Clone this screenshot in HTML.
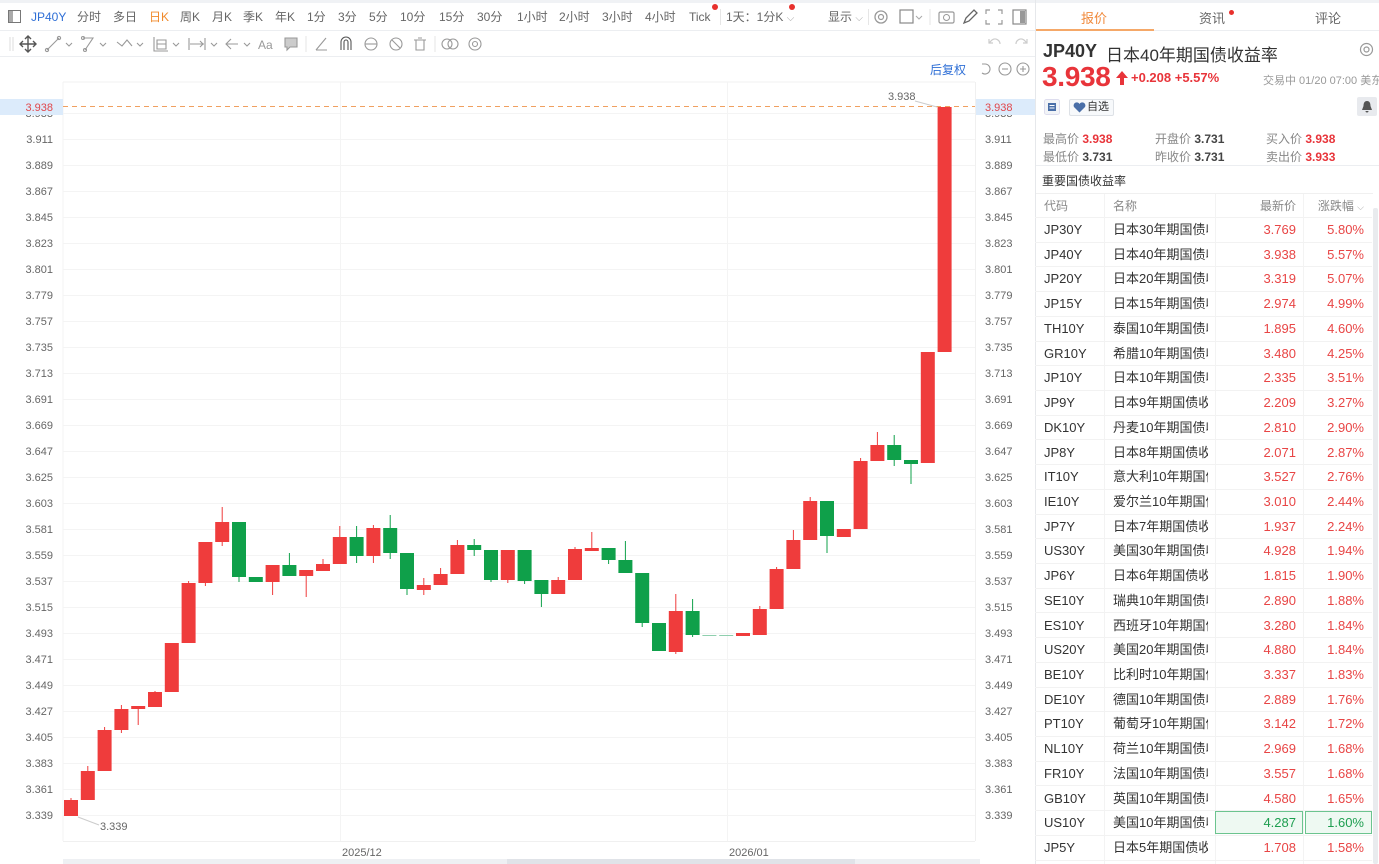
<!DOCTYPE html>
<html><head><meta charset="utf-8">
<style>
*{margin:0;padding:0;box-sizing:border-box}
body{width:1379px;height:864px;overflow:hidden;background:#fff;font-family:"Liberation Sans","Noto Sans CJK SC",sans-serif;position:relative;color:#333}
.a{position:absolute;white-space:nowrap}
.tb{font-size:12px;color:#666;top:9px;line-height:16px}
.row{position:absolute;left:1035px;width:337px;height:24.7px;border-bottom:1px solid #f2f2f2;font-size:13px;line-height:24px}
.row span{position:absolute;top:0;white-space:nowrap}
.c1{left:9px;color:#333}
.c2{left:78px;width:95px;overflow:hidden;color:#333}
.c3{right:76px;color:#e84545;text-align:right}
.c4{right:8px;color:#e84545;text-align:right}
.lb{color:#888;font-size:12px}
.vb{font-weight:bold;font-size:12px}
</style></head><body>

<div class="a" style="left:0;top:0;width:1379px;height:3px;background:#f0f2f5"></div>

<svg class="a" style="left:8px;top:10px" width="14" height="14"><rect x="0.5" y="0.5" width="12" height="12" fill="none" stroke="#777"/><rect x="1" y="1" width="4" height="11" fill="#aaa"/></svg>
<div class="a tb" style="left:31px;color:#2f6fd6">JP40Y</div>
<div class="a tb" style="left:77px">分时</div>
<div class="a tb" style="left:113px">多日</div>
<div class="a tb" style="left:149px;color:#f08a2c">日K</div>
<div class="a tb" style="left:180px">周K</div>
<div class="a tb" style="left:212px">月K</div>
<div class="a tb" style="left:243px">季K</div>
<div class="a tb" style="left:275px">年K</div>
<div class="a tb" style="left:307px">1分</div>
<div class="a tb" style="left:338px">3分</div>
<div class="a tb" style="left:369px">5分</div>
<div class="a tb" style="left:400px">10分</div>
<div class="a tb" style="left:439px">15分</div>
<div class="a tb" style="left:477px">30分</div>
<div class="a tb" style="left:517px">1小时</div>
<div class="a tb" style="left:559px">2小时</div>
<div class="a tb" style="left:602px">3小时</div>
<div class="a tb" style="left:645px">4小时</div>
<div class="a tb" style="left:689px">Tick</div>
<div class="a" style="left:712px;top:4px;width:6px;height:6px;border-radius:3px;background:#e8302c"></div>
<div class="a" style="left:720px;top:9px;width:1px;height:16px;background:#e6e6e6"></div>
<div class="a tb" style="left:726px">1天：1分K <span style="color:#aaa;font-size:10px">⌵</span></div>
<div class="a" style="left:789px;top:4px;width:6px;height:6px;border-radius:3px;background:#e8302c"></div>
<div class="a tb" style="left:828px">显示 <span style="color:#aaa;font-size:10px">⌵</span></div>
<div class="a" style="left:868px;top:9px;width:1px;height:16px;background:#e6e6e6"></div>
<svg class="a" style="left:872px;top:8px" width="160" height="18">
 <circle cx="9" cy="9" r="6" fill="none" stroke="#999" stroke-width="1.3"/><circle cx="9" cy="9" r="2.5" fill="none" stroke="#999" stroke-width="1.2"/>
 <rect x="28" y="2" width="13" height="13" fill="none" stroke="#888" stroke-width="1.2"/>
 <path d="M44 8 l3 3 l3 -3" fill="none" stroke="#aaa"/>
 <line x1="58" y1="1" x2="58" y2="17" stroke="#e6e6e6"/>
 <rect x="67" y="4" width="15" height="11" rx="1.5" fill="none" stroke="#999" stroke-width="1.2"/><circle cx="74.5" cy="9.5" r="3" fill="none" stroke="#999"/>
 <path d="M92 15 l2 -5 l8 -8 l3 3 l-8 8 z" fill="none" stroke="#666" stroke-width="1.3"/>
 <path d="M118 2 h-4 v4 M126 2 h4 v4 M118 16 h-4 v-4 M126 16 h4 v-4" fill="none" stroke="#999" stroke-width="1.2"/>
 <rect x="141" y="2" width="13" height="14" fill="none" stroke="#888" stroke-width="1.2"/><rect x="148" y="3" width="5" height="12" fill="#999"/>
</svg>
<div class="a" style="left:0;top:30px;width:1035px;height:1px;background:#eceef1"></div>

<svg class="a" style="left:0;top:32px" width="1035" height="24">
 <g stroke="#ddd"><line x1="10" y1="5" x2="10" y2="19"/><line x1="13" y1="5" x2="13" y2="19"/></g>
 <g fill="none" stroke="#555" stroke-width="1.4"><path d="M28 4 v16 M20 12 h16 M25 7 l3 -3 l3 3 M25 17 l3 3 l3 -3 M23 9 l-3 3 l3 3 M33 9 l3 3 l-3 3"/></g>
 <g fill="none" stroke="#999" stroke-width="1.1">
  <path d="M47 18 l12 -12"/><circle cx="47" cy="18" r="1.6"/><circle cx="59" cy="6" r="1.6"/><path d="M66 11 l3 3 l3 -3"/>
  <path d="M83 6 h10 l-8 12"/><circle cx="83" cy="6" r="1.5"/><circle cx="85" cy="18" r="1.5"/><path d="M100 11 l3 3 l3 -3"/>
  <path d="M117 10 l5 4 l5 -6 l5 6"/><path d="M137 11 l3 3 l3 -3"/>
  <path d="M154 5 v14 h14 M157 8 h9 v9 h-9 z M157 12 h9"/><path d="M173 11 l3 3 l3 -3"/>
  <path d="M189 6 v12 M205 6 v12 M190 12 h14 M200 9 l3 3 l-3 3"/><path d="M211 11 l3 3 l3 -3"/>
  <path d="M238 12 h-12 M231 7 l-5 5 l5 5"/><path d="M244 11 l3 3 l3 -3"/>
  <path d="M285 6 h12 v9 h-7 l-3 3 v-3 h-2 z" fill="#ccc"/>
  <line x1="306" y1="4" x2="306" y2="20" stroke="#e6e6e6"/>
  <path d="M316 18 l10 -12 M316 18 h11"/>
  <path d="M341 18 v-8 a5 5 0 0 1 10 0 v8 M344 18 v-8 a2 2 0 0 1 4 0 v8" stroke="#555"/>
  <circle cx="371" cy="12" r="6"/><path d="M365 12 h12"/>
  <circle cx="396" cy="12" r="6"/><path d="M392 8 l8 8"/>
  <path d="M414 8 h12 M416 8 v10 h8 v-10 M418 6 h4"/>
  <line x1="435" y1="4" x2="435" y2="20" stroke="#e6e6e6"/>
  <circle cx="447" cy="12" r="5"/><circle cx="453" cy="12" r="5"/>
  <circle cx="475" cy="12" r="6"/><circle cx="475" cy="12" r="2.5"/>
 </g>
 <text x="258" y="17" font-size="12" fill="#999" font-family="Liberation Sans">Aa</text>
 <g fill="none" stroke="#ccc" stroke-width="1.2"><path d="M1000 12 a5 5 0 0 0 -8 -4 l-3 3 M989 7 v4 h4"/><path d="M1016 12 a5 5 0 0 1 8 -4 l3 3 M1027 7 v4 h-4"/></g>
</svg>
<div class="a" style="left:0;top:56px;width:1035px;height:1px;background:#eceef1"></div>

<div class="a" style="left:930px;top:61px;font-size:12px;color:#2f6fd6">后复权</div>
<svg class="a" style="left:978px;top:61px" width="56" height="16" fill="none" stroke="#999" stroke-width="1.1">
 <path d="M4 3 h3 a5 5 0 1 1 -3 9"/><circle cx="27" cy="8" r="6"/><path d="M24 8 h6"/><circle cx="45" cy="8" r="6"/><path d="M42 8 h6 M45 5 v6"/>
</svg>

<svg class="a" style="left:0;top:0" width="1035" height="864" font-family="Liberation Sans" font-size="11">
 <line x1="63" y1="82" x2="975" y2="82" stroke="#f0f0f0"/>
 <line x1="63" y1="82" x2="63" y2="841" stroke="#f3f3f3"/>
 <line x1="975.5" y1="82" x2="975.5" y2="841" stroke="#f0f0f0"/>
 <line x1="63" y1="841.5" x2="975" y2="841.5" stroke="#f0f0f0"/>
 <g stroke="#f4f4f4">
  <line x1="63" x2="975" y1="815.5" y2="815.5"/><line x1="63" x2="975" y1="789.5" y2="789.5"/><line x1="63" x2="975" y1="763.5" y2="763.5"/><line x1="63" x2="975" y1="737.5" y2="737.5"/><line x1="63" x2="975" y1="711.5" y2="711.5"/><line x1="63" x2="975" y1="685.5" y2="685.5"/><line x1="63" x2="975" y1="659.5" y2="659.5"/><line x1="63" x2="975" y1="633.5" y2="633.5"/><line x1="63" x2="975" y1="607.5" y2="607.5"/><line x1="63" x2="975" y1="581.5" y2="581.5"/><line x1="63" x2="975" y1="555.5" y2="555.5"/><line x1="63" x2="975" y1="529.5" y2="529.5"/><line x1="63" x2="975" y1="503.5" y2="503.5"/><line x1="63" x2="975" y1="477.5" y2="477.5"/><line x1="63" x2="975" y1="451.5" y2="451.5"/><line x1="63" x2="975" y1="425.5" y2="425.5"/><line x1="63" x2="975" y1="399.5" y2="399.5"/><line x1="63" x2="975" y1="373.5" y2="373.5"/><line x1="63" x2="975" y1="347.5" y2="347.5"/><line x1="63" x2="975" y1="321.5" y2="321.5"/><line x1="63" x2="975" y1="295.5" y2="295.5"/><line x1="63" x2="975" y1="269.5" y2="269.5"/><line x1="63" x2="975" y1="243.5" y2="243.5"/><line x1="63" x2="975" y1="217.5" y2="217.5"/><line x1="63" x2="975" y1="191.5" y2="191.5"/><line x1="63" x2="975" y1="165.5" y2="165.5"/><line x1="63" x2="975" y1="139.5" y2="139.5"/><line x1="63" x2="975" y1="113.5" y2="113.5"/>
  <line x1="340.5" x2="340.5" y1="82" y2="841"/><line x1="727.5" x2="727.5" y1="82" y2="841"/>
 </g>
 <g fill="#666" text-anchor="end">
  <text x="53" y="819">3.339</text><text x="53" y="793">3.361</text><text x="53" y="767">3.383</text><text x="53" y="741">3.405</text><text x="53" y="715">3.427</text><text x="53" y="689">3.449</text><text x="53" y="663">3.471</text><text x="53" y="637">3.493</text><text x="53" y="611">3.515</text><text x="53" y="585">3.537</text><text x="53" y="559">3.559</text><text x="53" y="533">3.581</text><text x="53" y="507">3.603</text><text x="53" y="481">3.625</text><text x="53" y="455">3.647</text><text x="53" y="429">3.669</text><text x="53" y="403">3.691</text><text x="53" y="377">3.713</text><text x="53" y="351">3.735</text><text x="53" y="325">3.757</text><text x="53" y="299">3.779</text><text x="53" y="273">3.801</text><text x="53" y="247">3.823</text><text x="53" y="221">3.845</text><text x="53" y="195">3.867</text><text x="53" y="169">3.889</text><text x="53" y="143">3.911</text><text x="53" y="117">3.933</text>
 </g>
 <g fill="#666">
  <text x="985" y="819">3.339</text><text x="985" y="793">3.361</text><text x="985" y="767">3.383</text><text x="985" y="741">3.405</text><text x="985" y="715">3.427</text><text x="985" y="689">3.449</text><text x="985" y="663">3.471</text><text x="985" y="637">3.493</text><text x="985" y="611">3.515</text><text x="985" y="585">3.537</text><text x="985" y="559">3.559</text><text x="985" y="533">3.581</text><text x="985" y="507">3.603</text><text x="985" y="481">3.625</text><text x="985" y="455">3.647</text><text x="985" y="429">3.669</text><text x="985" y="403">3.691</text><text x="985" y="377">3.713</text><text x="985" y="351">3.735</text><text x="985" y="325">3.757</text><text x="985" y="299">3.779</text><text x="985" y="273">3.801</text><text x="985" y="247">3.823</text><text x="985" y="221">3.845</text><text x="985" y="195">3.867</text><text x="985" y="169">3.889</text><text x="985" y="143">3.911</text><text x="985" y="117">3.933</text>
 </g>
 <rect x="0" y="99" width="63" height="16" fill="#dcebfb"/>
 <rect x="976" y="99" width="59" height="16" fill="#dcebfb"/>
 <text x="53" y="111" fill="#e0474c" text-anchor="end">3.938</text>
 <text x="985" y="111" fill="#e0474c">3.938</text>
 <line x1="63" y1="106.5" x2="975" y2="106.5" stroke="#f0a060" stroke-dasharray="5,4"/>
 <text x="342" y="856" fill="#666">2025/12</text>
 <text x="729" y="856" fill="#666">2026/01</text>
 <rect x="63" y="859" width="917" height="5" fill="#eef0f3"/>
 <rect x="507" y="859" width="348" height="5" fill="#e0e3e8"/>
 <line x1="78" y1="817" x2="99" y2="825" stroke="#ccc"/>
 <text x="100" y="830" fill="#666">3.339</text>
 <line x1="915" y1="101" x2="937" y2="107" stroke="#ccc"/>
 <text x="888" y="100" fill="#666">3.938</text>
 <g fill="#ef3c3c" stroke="#ef3c3c">
  <line x1="71" x2="71" y1="798" y2="816"/><rect x="64" y="800" width="14" height="16" stroke="none"/>
  <line x1="87.8" x2="87.8" y1="766" y2="800"/><rect x="80.8" y="771" width="14" height="29" stroke="none"/>
  <line x1="104.6" x2="104.6" y1="727" y2="771"/><rect x="97.6" y="730" width="14" height="41" stroke="none"/>
  <line x1="121.4" x2="121.4" y1="705" y2="733"/><rect x="114.4" y="709" width="14" height="21" stroke="none"/>
  <line x1="138.2" x2="138.2" y1="706" y2="725"/><rect x="131.2" y="706" width="14" height="3" stroke="none"/>
  <line x1="155" x2="155" y1="691" y2="707"/><rect x="148" y="692" width="14" height="15" stroke="none"/>
  <rect x="164.8" y="643" width="14" height="49" stroke="none"/>
  <line x1="188.6" x2="188.6" y1="581" y2="643"/><rect x="181.6" y="583" width="14" height="60" stroke="none"/>
  <line x1="205.4" x2="205.4" y1="542" y2="586"/><rect x="198.4" y="542" width="14" height="41" stroke="none"/>
  <line x1="222.2" x2="222.2" y1="507" y2="546"/><rect x="215.2" y="522" width="14" height="20" stroke="none"/>
  <line x1="272.6" x2="272.6" y1="565" y2="595"/><rect x="265.6" y="565" width="14" height="17" stroke="none"/>
  <line x1="306.2" x2="306.2" y1="571" y2="597"/><rect x="299.2" y="570" width="14" height="6" stroke="none"/>
  <line x1="323" x2="323" y1="559" y2="571"/><rect x="316" y="564" width="14" height="7" stroke="none"/>
  <line x1="339.8" x2="339.8" y1="526" y2="564"/><rect x="332.8" y="537" width="14" height="27" stroke="none"/>
  <line x1="373.4" x2="373.4" y1="525" y2="563"/><rect x="366.4" y="528" width="14" height="28" stroke="none"/>
  <line x1="423.8" x2="423.8" y1="578" y2="595"/><rect x="416.8" y="585" width="14" height="5" stroke="none"/>
  <line x1="440.6" x2="440.6" y1="568" y2="585"/><rect x="433.6" y="574" width="14" height="11" stroke="none"/>
  <line x1="457.4" x2="457.4" y1="540" y2="574"/><rect x="450.4" y="545" width="14" height="29" stroke="none"/>
  <line x1="507.8" x2="507.8" y1="550" y2="583"/><rect x="500.8" y="550" width="14" height="30" stroke="none"/>
  <line x1="558.2" x2="558.2" y1="577" y2="594"/><rect x="551.2" y="580" width="14" height="14" stroke="none"/>
  <line x1="575" x2="575" y1="547" y2="580"/><rect x="568" y="549" width="14" height="31" stroke="none"/>
  <line x1="591.8" x2="591.8" y1="532" y2="551"/><rect x="584.8" y="548" width="14" height="3" stroke="none"/>
  <line x1="675.8" x2="675.8" y1="594" y2="654"/><rect x="668.8" y="611" width="14" height="41" stroke="none"/>
  <rect x="736" y="633" width="14" height="3" stroke="none"/>
  <line x1="759.8" x2="759.8" y1="606" y2="635"/><rect x="752.8" y="609" width="14" height="26" stroke="none"/>
  <line x1="776.6" x2="776.6" y1="567" y2="609"/><rect x="769.6" y="569" width="14" height="40" stroke="none"/>
  <line x1="793.4" x2="793.4" y1="530" y2="569"/><rect x="786.4" y="540" width="14" height="29" stroke="none"/>
  <line x1="810.2" x2="810.2" y1="497" y2="540"/><rect x="803.2" y="501" width="14" height="39" stroke="none"/>
  <rect x="836.8" y="529" width="14" height="8" stroke="none"/>
  <line x1="860.6" x2="860.6" y1="458" y2="529"/><rect x="853.6" y="461" width="14" height="68" stroke="none"/>
  <line x1="877.4" x2="877.4" y1="432" y2="461"/><rect x="870.4" y="445" width="14" height="16" stroke="none"/>
  <rect x="920.8" y="352" width="14" height="111" stroke="none"/>
  <rect x="937.6" y="107" width="14" height="245" stroke="none"/>
 </g>
 <g fill="#0fa04a" stroke="#0fa04a">
  <line x1="239" x2="239" y1="522" y2="582"/><rect x="232" y="522" width="14" height="55" stroke="none"/>
  <rect x="248.8" y="577" width="14" height="5" stroke="none"/>
  <line x1="289.4" x2="289.4" y1="553" y2="576"/><rect x="282.4" y="565" width="14" height="11" stroke="none"/>
  <line x1="356.6" x2="356.6" y1="526" y2="563"/><rect x="349.6" y="537" width="14" height="19" stroke="none"/>
  <line x1="390.2" x2="390.2" y1="515" y2="559"/><rect x="383.2" y="528" width="14" height="25" stroke="none"/>
  <line x1="407" x2="407" y1="553" y2="595"/><rect x="400" y="553" width="14" height="36" stroke="none"/>
  <line x1="474.2" x2="474.2" y1="539" y2="556"/><rect x="467.2" y="545" width="14" height="5" stroke="none"/>
  <line x1="491" x2="491" y1="550" y2="582"/><rect x="484" y="550" width="14" height="30" stroke="none"/>
  <line x1="524.6" x2="524.6" y1="550" y2="584"/><rect x="517.6" y="550" width="14" height="31" stroke="none"/>
  <line x1="541.4" x2="541.4" y1="580" y2="607"/><rect x="534.4" y="580" width="14" height="14" stroke="none"/>
  <line x1="608.6" x2="608.6" y1="548" y2="564"/><rect x="601.6" y="548" width="14" height="12" stroke="none"/>
  <line x1="625.4" x2="625.4" y1="541" y2="573"/><rect x="618.4" y="560" width="14" height="13" stroke="none"/>
  <line x1="642.2" x2="642.2" y1="573" y2="627"/><rect x="635.2" y="573" width="14" height="50" stroke="none"/>
  <rect x="652" y="623" width="14" height="28" stroke="none"/>
  <line x1="692.6" x2="692.6" y1="599" y2="637"/><rect x="685.6" y="611" width="14" height="24" stroke="none"/>
  <line x1="827" x2="827" y1="501" y2="553"/><rect x="820" y="501" width="14" height="35" stroke="none"/>
  <line x1="894.2" x2="894.2" y1="435" y2="466"/><rect x="887.2" y="445" width="14" height="15" stroke="none"/>
  <line x1="911" x2="911" y1="460" y2="484"/><rect x="904" y="460" width="14" height="4" stroke="none"/>
 </g>
 <g stroke="#8fcfae"><line x1="702.4" x2="716.4" y1="635.5" y2="635.5"/><line x1="719.2" x2="733.2" y1="635.5" y2="635.5"/></g>
</svg>

<div class="a" style="left:1035px;top:0;width:1px;height:864px;background:#e6e8eb"></div>
<div class="a" style="left:1036px;top:3px;width:343px;height:28px;background:#fff;border-bottom:1px solid #eceef1"></div>
<div class="a" style="left:1081px;top:8px;font-size:13px;color:#f08a3c">报价</div>
<div class="a" style="left:1036px;top:29px;width:118px;height:2px;background:#f5a868"></div>
<div class="a" style="left:1199px;top:8px;font-size:13px;color:#666">资讯</div>
<div class="a" style="left:1229px;top:10px;width:5px;height:5px;border-radius:3px;background:#e8302c"></div>
<div class="a" style="left:1315px;top:8px;font-size:13px;color:#666">评论</div>

<div class="a" style="left:1043px;top:41px;font-size:18px;font-weight:bold;color:#333">JP40Y</div>
<div class="a" style="left:1106px;top:41px;font-size:17px;color:#333">日本40年期国债收益率</div>
<svg class="a" style="left:1359px;top:42px" width="15" height="15" fill="none" stroke="#999" stroke-width="1.2"><circle cx="7.5" cy="7.5" r="6"/><circle cx="7.5" cy="7.5" r="2.5"/></svg>

<div class="a" style="left:1042px;top:61px;font-size:28px;font-weight:bold;color:#e8343a;letter-spacing:-0.3px">3.938</div>
<svg class="a" style="left:1115px;top:70px" width="14" height="16"><path d="M7 1 L13 8 H9 V15 H5 V8 H1 Z" fill="#e8343a"/></svg>
<div class="a" style="left:1131px;top:70px;font-size:13px;font-weight:bold;color:#e8343a">+0.208 +5.57%</div>
<div class="a" style="left:1263px;top:72px;font-size:11px;color:#999">交易中 01/20 07:00 美东</div>

<svg class="a" style="left:1044px;top:99px" width="16" height="16"><rect x="0.5" y="0.5" width="15" height="15" rx="2" fill="#f2f4f7" stroke="#dde"/><rect x="4" y="4" width="8" height="8" fill="#4a6fa8"/><rect x="5.5" y="6" width="5" height="1" fill="#fff"/><rect x="5.5" y="8.5" width="5" height="1" fill="#fff"/></svg>
<div class="a" style="left:1069px;top:99px;width:45px;height:17px;border:1px solid #dde1e6;border-radius:2px;background:#f7f9fb;font-size:11px;line-height:15px;color:#333;padding-left:17px">自选</div>
<svg class="a" style="left:1073px;top:102px" width="13" height="11"><path d="M6.5 10.5 L1 5 A3 3 0 0 1 6.5 2 A3 3 0 0 1 12 5 Z" fill="#4a6fa8"/></svg>
<div class="a" style="left:1357px;top:97px;width:20px;height:19px;background:#e8eaee;border-radius:2px"></div>
<svg class="a" style="left:1361px;top:100px" width="12" height="13"><path d="M6 1 C3 1 2.5 4 2.5 6 L1 10 H11 L9.5 6 C9.5 4 9 1 6 1 Z M4.5 11 A1.5 1.5 0 0 0 7.5 11 Z" fill="#555"/></svg>

<div class="a" style="left:1043px;top:130px"><span class="lb">最高价 </span><span class="vb" style="color:#e8343a">3.938</span></div>
<div class="a" style="left:1155px;top:130px"><span class="lb">开盘价 </span><span class="vb" style="color:#444">3.731</span></div>
<div class="a" style="left:1266px;top:130px"><span class="lb">买入价 </span><span class="vb" style="color:#e8343a">3.938</span></div>
<div class="a" style="left:1043px;top:148px"><span class="lb">最低价 </span><span class="vb" style="color:#444">3.731</span></div>
<div class="a" style="left:1155px;top:148px"><span class="lb">昨收价 </span><span class="vb" style="color:#444">3.731</span></div>
<div class="a" style="left:1266px;top:148px"><span class="lb">卖出价 </span><span class="vb" style="color:#e8343a">3.933</span></div>
<div class="a" style="left:1036px;top:165px;width:343px;height:1px;background:#eceef1"></div>
<div class="a" style="left:1042px;top:172px;font-size:12px;color:#333">重要国债收益率</div>
<div class="a" style="left:1036px;top:193px;width:337px;height:1px;background:#f0f0f0"></div>

<div class="row" style="top:194px;height:24px;font-size:12px">
 <span class="c1" style="color:#888">代码</span>
 <span class="c2" style="color:#888">名称</span>
 <span class="c3" style="color:#888;right:76px">最新价</span>
 <span class="c4" style="color:#888;right:8px">涨跌幅 <span style="position:static;font-size:9px;color:#aaa">⌵</span></span>
</div>
<div class="a" style="left:1104px;top:194px;width:1px;height:670px;background:#f3f3f3"></div>
<div class="a" style="left:1215px;top:194px;width:1px;height:670px;background:#f3f3f3"></div>
<div class="a" style="left:1303px;top:194px;width:1px;height:670px;background:#f3f3f3"></div>
<div class="a" style="left:1373px;top:208px;width:5px;height:656px;background:#e9ebee;border-radius:2px"></div>

<div class="row" style="top:218px"><span class="c1">JP30Y</span><span class="c2">日本30年期国债收益率</span><span class="c3">3.769</span><span class="c4">5.80%</span></div>
<div class="row" style="top:242.7px"><span class="c1">JP40Y</span><span class="c2">日本40年期国债收益率</span><span class="c3">3.938</span><span class="c4">5.57%</span></div>
<div class="row" style="top:267.4px"><span class="c1">JP20Y</span><span class="c2">日本20年期国债收益率</span><span class="c3">3.319</span><span class="c4">5.07%</span></div>
<div class="row" style="top:292.2px"><span class="c1">JP15Y</span><span class="c2">日本15年期国债收益率</span><span class="c3">2.974</span><span class="c4">4.99%</span></div>
<div class="row" style="top:316.9px"><span class="c1">TH10Y</span><span class="c2">泰国10年期国债收益率</span><span class="c3">1.895</span><span class="c4">4.60%</span></div>
<div class="row" style="top:341.6px"><span class="c1">GR10Y</span><span class="c2">希腊10年期国债收益率</span><span class="c3">3.480</span><span class="c4">4.25%</span></div>
<div class="row" style="top:366.3px"><span class="c1">JP10Y</span><span class="c2">日本10年期国债收益率</span><span class="c3">2.335</span><span class="c4">3.51%</span></div>
<div class="row" style="top:391px"><span class="c1">JP9Y</span><span class="c2">日本9年期国债收益率</span><span class="c3">2.209</span><span class="c4">3.27%</span></div>
<div class="row" style="top:415.8px"><span class="c1">DK10Y</span><span class="c2">丹麦10年期国债收益率</span><span class="c3">2.810</span><span class="c4">2.90%</span></div>
<div class="row" style="top:440.5px"><span class="c1">JP8Y</span><span class="c2">日本8年期国债收益率</span><span class="c3">2.071</span><span class="c4">2.87%</span></div>
<div class="row" style="top:465.2px"><span class="c1">IT10Y</span><span class="c2">意大利10年期国债收益率</span><span class="c3">3.527</span><span class="c4">2.76%</span></div>
<div class="row" style="top:489.9px"><span class="c1">IE10Y</span><span class="c2">爱尔兰10年期国债收益率</span><span class="c3">3.010</span><span class="c4">2.44%</span></div>
<div class="row" style="top:514.6px"><span class="c1">JP7Y</span><span class="c2">日本7年期国债收益率</span><span class="c3">1.937</span><span class="c4">2.24%</span></div>
<div class="row" style="top:539.4px"><span class="c1">US30Y</span><span class="c2">美国30年期国债收益率</span><span class="c3">4.928</span><span class="c4">1.94%</span></div>
<div class="row" style="top:564.1px"><span class="c1">JP6Y</span><span class="c2">日本6年期国债收益率</span><span class="c3">1.815</span><span class="c4">1.90%</span></div>
<div class="row" style="top:588.8px"><span class="c1">SE10Y</span><span class="c2">瑞典10年期国债收益率</span><span class="c3">2.890</span><span class="c4">1.88%</span></div>
<div class="row" style="top:613.5px"><span class="c1">ES10Y</span><span class="c2">西班牙10年期国债收益率</span><span class="c3">3.280</span><span class="c4">1.84%</span></div>
<div class="row" style="top:638.2px"><span class="c1">US20Y</span><span class="c2">美国20年期国债收益率</span><span class="c3">4.880</span><span class="c4">1.84%</span></div>
<div class="row" style="top:663px"><span class="c1">BE10Y</span><span class="c2">比利时10年期国债收益率</span><span class="c3">3.337</span><span class="c4">1.83%</span></div>
<div class="row" style="top:687.7px"><span class="c1">DE10Y</span><span class="c2">德国10年期国债收益率</span><span class="c3">2.889</span><span class="c4">1.76%</span></div>
<div class="row" style="top:712.4px"><span class="c1">PT10Y</span><span class="c2">葡萄牙10年期国债收益率</span><span class="c3">3.142</span><span class="c4">1.72%</span></div>
<div class="row" style="top:737.1px"><span class="c1">NL10Y</span><span class="c2">荷兰10年期国债收益率</span><span class="c3">2.969</span><span class="c4">1.68%</span></div>
<div class="row" style="top:761.8px"><span class="c1">FR10Y</span><span class="c2">法国10年期国债收益率</span><span class="c3">3.557</span><span class="c4">1.68%</span></div>
<div class="row" style="top:786.6px"><span class="c1">GB10Y</span><span class="c2">英国10年期国债收益率</span><span class="c3">4.580</span><span class="c4">1.65%</span></div>
<div class="row" style="top:811.3px"><span class="c1">US10Y</span><span class="c2">美国10年期国债收益率</span></div>
<div class="a" style="left:1215px;top:811px;width:88px;height:23px;border:1px solid #6cc48f;background:#eef9f2"></div>
<div class="a" style="left:1305px;top:811px;width:67px;height:23px;border:1px solid #6cc48f;background:#eef9f2"></div>
<div class="a" style="left:1215px;top:811px;width:81px;font-size:13px;line-height:23px;text-align:right;color:#1e9e50">4.287</div>
<div class="a" style="left:1305px;top:811px;width:59px;font-size:13px;line-height:23px;text-align:right;color:#1e9e50">1.60%</div>
<div class="row" style="top:836px"><span class="c1">JP5Y</span><span class="c2">日本5年期国债收益率</span><span class="c3">1.708</span><span class="c4">1.58%</span></div>

</body></html>
